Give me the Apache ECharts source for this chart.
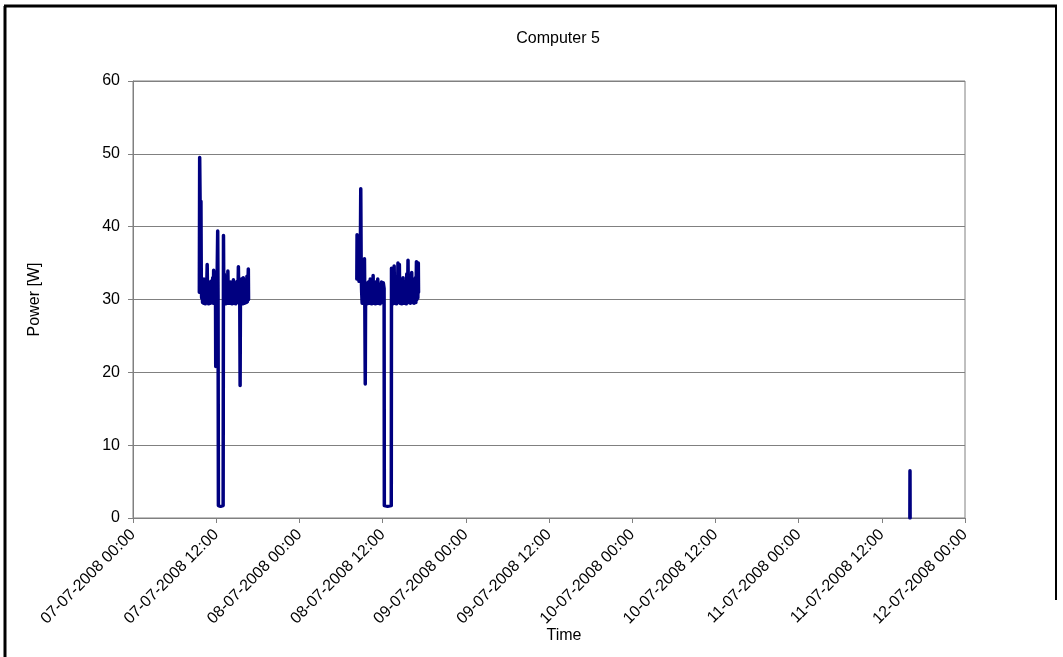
<!DOCTYPE html>
<html>
<head>
<meta charset="utf-8">
<script src="https://cdn.jsdelivr.net/npm/echarts@6/dist/echarts.min.js"></script>
<style>html,body{margin:0;padding:0;background:#fff}#c{width:1063px;height:657px}</style>
</head>
<body>
<div id="c"></div>
<script>
// Session on 07-07-2008
const day1Times = ["09:34","09:37","09:42","09:46","09:48","09:51","09:54","09:58","10:02","10:06","10:10","10:14","10:18","10:22","10:26","10:30","10:34","10:38","10:42","10:46","10:50","10:54","10:58","11:02","11:06","11:10","11:14","11:18","11:22","11:26","11:30","11:34","11:38","11:42","11:46","11:50","11:54","11:56","11:59","12:03","12:08","12:13","12:16","12:19","12:38","13:00","13:03","13:06","13:10","13:14","13:18","13:22","13:26","13:30","13:34","13:38","13:41","13:45","13:49","13:53","13:57","14:01","14:05","14:09","14:13","14:17","14:21","14:25","14:29","14:33","14:37","14:41","14:45","14:49","14:53","14:57","15:01","15:05","15:09","15:12","15:16","15:20","15:24","15:27","15:30","15:34","15:38","15:42","15:46","15:50","15:54","15:58","16:02","16:06","16:10","16:14","16:18","16:22","16:26","16:30","16:34","16:38","16:40"];
const day1Power = [31.0,49.5,41.0,33.5,43.5,32.0,30.2,32.5,29.6,31.8,29.5,32.8,29.8,31.2,29.4,32.0,29.7,31.5,34.8,29.6,31.0,29.4,32.2,29.8,30.8,29.5,32.5,29.6,31.4,29.8,33.0,29.5,34.0,29.7,32.0,29.6,31.0,20.8,32.5,30.0,33.0,39.4,30.5,1.7,1.6,1.7,38.8,30.2,33.5,29.6,31.8,29.4,32.2,29.8,31.5,29.5,33.9,29.8,32.0,29.5,31.2,29.7,32.4,29.6,31.0,29.4,32.0,29.8,32.7,29.5,31.6,29.7,32.2,29.4,31.0,29.8,32.5,29.6,31.4,34.5,29.8,32.0,29.6,18.2,31.5,29.5,32.8,29.8,31.2,29.4,33.0,29.7,31.5,29.5,32.6,29.8,31.0,29.6,33.2,29.7,31.8,34.2,30.0];

// Session on 08-07-2008
const day2Times = ["08:17","08:19","08:23","08:27","08:31","08:36","08:41","08:46","08:51","08:55","08:59","09:03","09:08","09:13","09:18","09:23","09:26","09:30","09:33","09:37","09:41","09:45","09:49","09:53","09:57","10:01","10:05","10:09","10:13","10:17","10:21","10:25","10:29","10:33","10:38","10:42","10:46","10:50","10:54","10:58","11:02","11:06","11:10","11:14","11:18","11:22","11:26","11:30","11:34","11:38","11:42","11:46","11:50","11:54","11:58","12:02","12:06","12:13","12:15","12:43","13:15","13:17","13:20","13:24","13:28","13:32","13:36","13:40","13:44","13:48","13:52","13:56","14:00","14:04","14:08","14:13","14:17","14:21","14:25","14:29","14:33","14:37","14:41","14:45","14:49","14:53","14:57","15:01","15:05","15:09","15:13","15:17","15:21","15:25","15:29","15:33","15:37","15:40","15:44","15:48","15:52","15:56","16:00","16:04","16:08","16:12","16:16","16:20","16:24","16:28","16:32","16:36","16:40","16:44","16:48","16:53","16:57","17:01","17:05","17:09","17:11"];
const day2Power = [32.8,38.9,33.0,38.5,34.0,32.5,36.0,33.0,45.2,33.5,31.0,29.5,32.0,29.8,31.5,35.6,30.0,18.4,31.8,29.6,32.2,29.4,31.0,29.7,32.4,29.5,31.2,29.8,32.8,29.6,31.5,29.4,32.0,29.7,33.3,29.5,31.4,29.8,32.2,29.4,31.0,29.6,32.5,29.7,32.8,29.5,31.6,29.8,32.0,29.4,31.2,29.7,32.4,29.6,31.5,29.8,32.3,31.5,1.7,1.6,1.7,34.3,29.6,31.8,29.4,32.5,29.8,34.6,29.5,31.4,29.7,32.2,29.4,31.0,29.6,35.0,29.8,32.0,34.8,29.5,31.6,29.8,32.5,29.4,31.2,29.7,33.0,29.5,31.8,29.6,32.4,29.8,31.0,29.4,33.5,29.7,31.5,35.4,29.6,32.2,29.8,31.0,29.5,32.8,29.7,33.7,29.6,31.4,29.8,32.6,29.5,31.8,29.7,33.0,29.6,35.2,30.0,32.4,30.2,35.0,31.0];

// Short event on 11-07-2008
const day5Times = ["16:03","16:04","16:05"];
const day5Power = [0,6.5,0];

const yTicks = [0,10,20,30,40,50,60];

function ts(date, hm) {
  const [y,m,d] = date;
  const [h,mi] = hm.split(':').map(Number);
  return Date.UTC(y, m-1, d, h, mi);
}
function session(date, times, vals) {
  return times.map((t,i)=>[ts(date,t), vals[i]]);
}
const data = []
  .concat(session([2008,7,7], day1Times, day1Power))
  .concat([[ts([2008,7,7],"16:50"), null]])
  .concat(session([2008,7,8], day2Times, day2Power))
  .concat([[ts([2008,7,8],"17:20"), null]])
  .concat(session([2008,7,11], day5Times, day5Power));

function pad(n){return (n<10?'0':'')+n;}
function fmt(v){
  const d = new Date(v);
  return pad(d.getUTCDate())+'-'+pad(d.getUTCMonth()+1)+'-'+d.getUTCFullYear()+' '+pad(d.getUTCHours())+':'+pad(d.getUTCMinutes());
}

const chart = echarts.init(document.getElementById('c'), null, {renderer:'canvas'});
const FONT = 'Liberation Sans';
chart.setOption({
  animation: false,
  backgroundColor: '#fff',
  title: {
    text: 'Computer 5', left: 553, top: 26, textAlign: 'center',
    textStyle: {fontFamily: FONT, fontSize: 16, fontWeight: 'normal', color: '#000'}
  },
  grid: {left: 133, right: 98, top: 81, bottom: 139, show: true, borderColor: '#808080', borderWidth: 1},
  xAxis: {
    type: 'value',
    min: Date.UTC(2008,6,7), max: Date.UTC(2008,6,12), interval: 12*3600*1000,
    name: 'Time', nameLocation: 'middle', nameGap: 110, nameMoveOverlap: false,
    nameTextStyle: {fontFamily: FONT, fontSize: 16, color: '#000', padding: [0,0,0,30]},
    axisLine: {show: true, lineStyle: {color: '#808080', width: 1}},
    axisTick: {show: true, length: 5, lineStyle: {color: '#808080'}},
    splitLine: {show: false},
    axisLabel: {rotate: 45, formatter: fmt, fontFamily: FONT, fontSize: 16, color: '#000', margin: 14, showMaxLabel: true, showMinLabel: true}
  },
  yAxis: {
    type: 'value', min: yTicks[0], max: yTicks[yTicks.length-1], interval: 10,
    name: 'Power [W]', nameLocation: 'middle', nameGap: 90,
    nameTextStyle: {fontFamily: FONT, fontSize: 16, color: '#000'},
    axisLine: {show: true, lineStyle: {color: '#808080', width: 1}},
    axisTick: {show: true, length: 5, lineStyle: {color: '#808080'}},
    splitLine: {show: true, lineStyle: {color: '#808080', width: 1}},
    axisLabel: {fontFamily: FONT, fontSize: 16, color: '#000', margin: 13}
  },
  series: [{
    type: 'line', data: data, showSymbol: false, symbol: 'none',
    connectNulls: false,
    lineStyle: {color: '#000080', width: 3.5, join: 'round', cap: 'round'},
    itemStyle: {color: '#000080'}
  }],
  graphic: [
    {type: 'line', shape: {x1: 5, y1: 6, x2: 5, y2: 657}, style: {stroke: '#000', lineWidth: 3}},
    {type: 'line', shape: {x1: 4, y1: 6, x2: 1057, y2: 6}, style: {stroke: '#000', lineWidth: 3}},
    {type: 'line', shape: {x1: 1056, y1: 5, x2: 1056, y2: 600}, style: {stroke: '#000', lineWidth: 2}}
  ]
});
</script>
</body>
</html>
